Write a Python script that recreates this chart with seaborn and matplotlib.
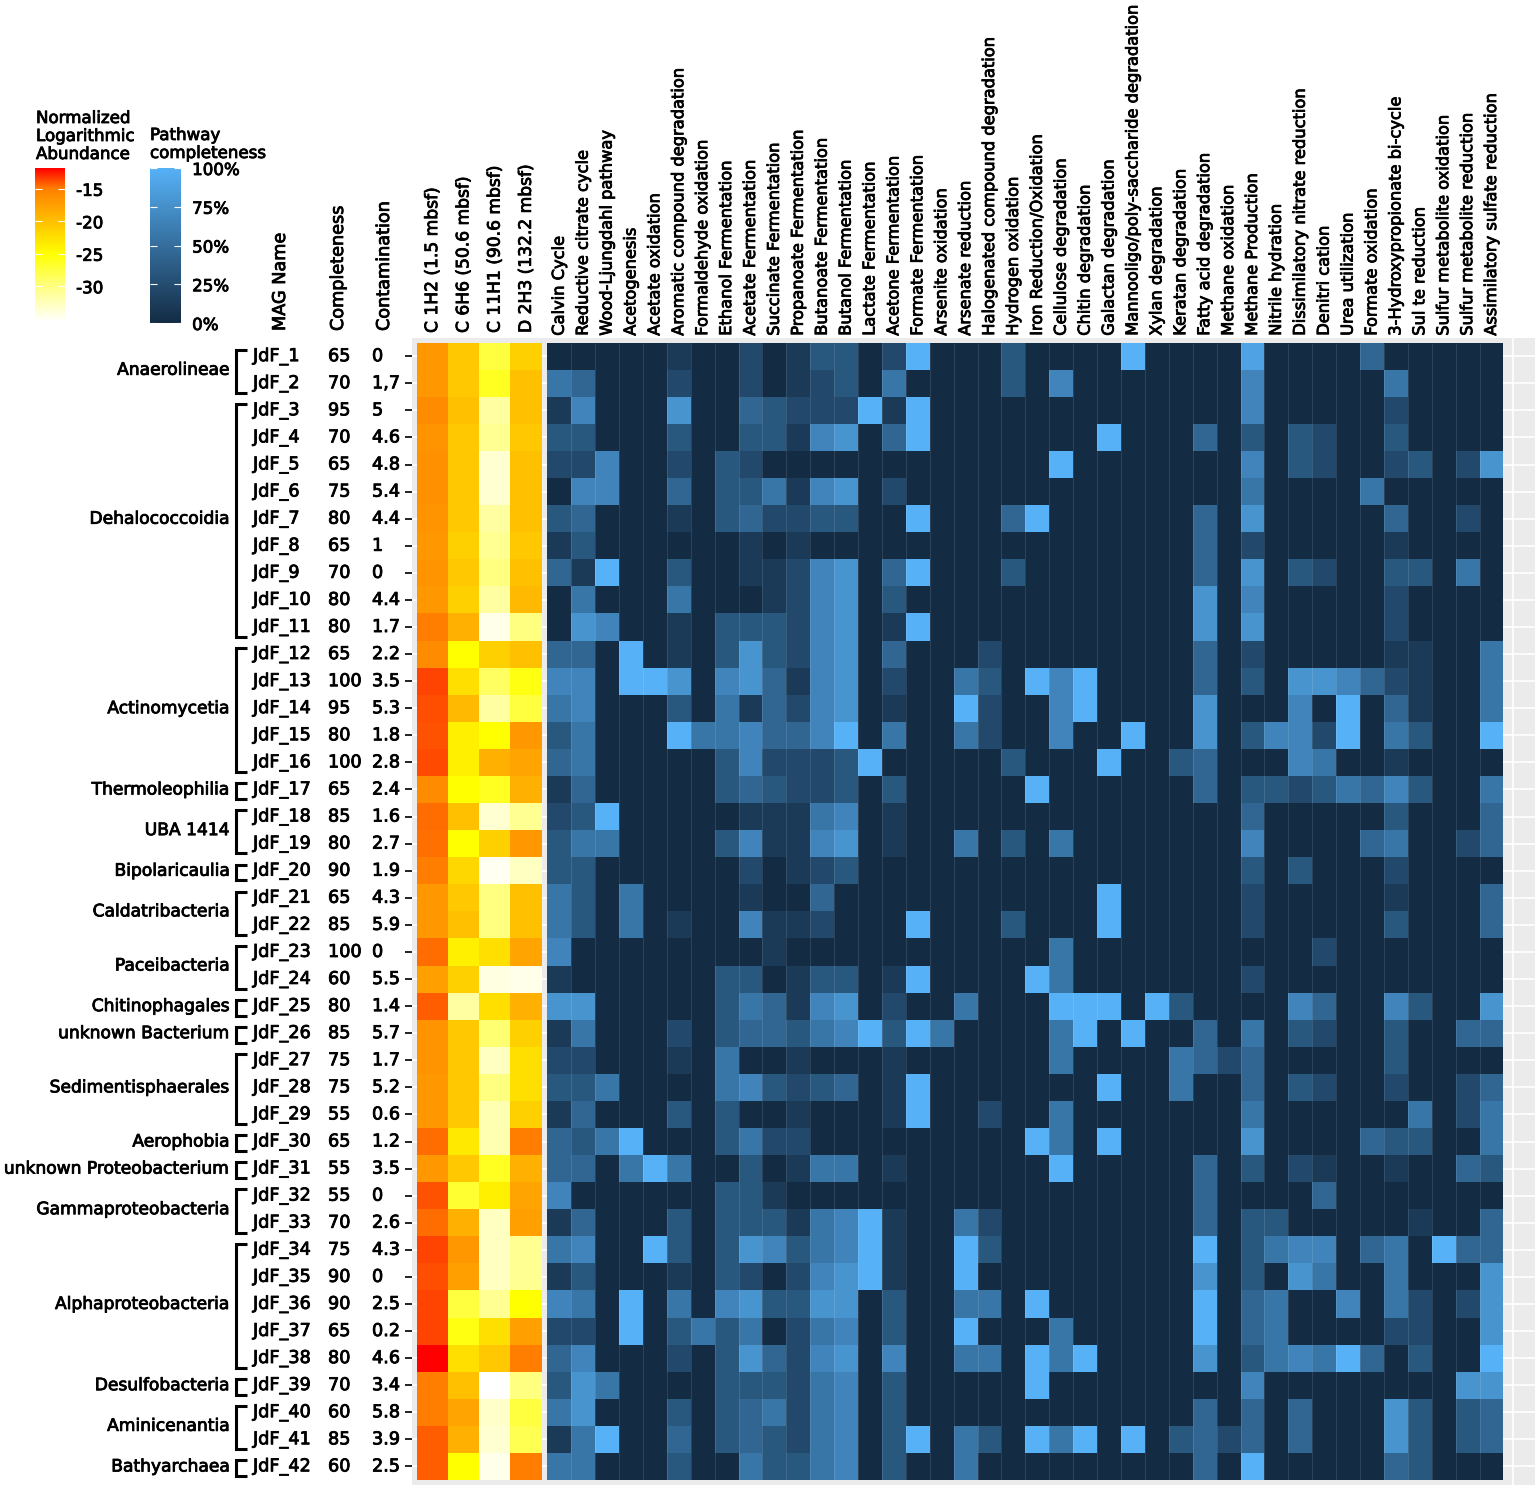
import numpy as np
import pandas as pd
import matplotlib
matplotlib.use('Agg')
import matplotlib.pyplot as plt
import matplotlib.transforms as mtransforms
import matplotlib.patheffects as pe
from matplotlib.colors import LinearSegmentedColormap
import seaborn as sns

# --------------------
# DATA
# --------------------
mag_names = ['JdF_%d' % i for i in range(1, 43)]
completeness = [65, 70, 95, 70, 65, 75, 80, 65, 70, 80, 80, 65, 100, 95, 80, 100, 65, 85, 80, 90, 65,
                85, 100, 60, 80, 85, 75, 75, 55, 65, 55, 55, 70, 75, 90, 90, 65, 80, 70, 60, 85, 60]
contamination = ['0', '1,7', '5', '4.6', '4.8', '5.4', '4.4', '1', '0', '4.4', '1.7', '2.2', '3.5', '5.3',
                 '1.8', '2.8', '2.4', '1.6', '2.7', '1.9', '4.3', '5.9', '0', '5.5', '1.4', '5.7', '1.7',
                 '5.2', '0.6', '1.2', '3.5', '0', '2.6', '4.3', '0', '2.5', '0.2', '4.6', '3.4', '5.8',
                 '3.9', '2.5']

# (taxon, first row, last row), 1-based
taxa = [('Anaerolineae', 1, 2), ('Dehalococcoidia', 3, 11), ('Actinomycetia', 12, 16),
        ('Thermoleophilia', 17, 17), ('UBA 1414', 18, 19), ('Bipolaricaulia', 20, 20),
        ('Caldatribacteria', 21, 22), ('Paceibacteria', 23, 24), ('Chitinophagales', 25, 25),
        ('unknown Bacterium', 26, 26), ('Sedimentisphaerales', 27, 29), ('Aerophobia', 30, 30),
        ('unknown Proteobacterium', 31, 31), ('Gammaproteobacteria', 32, 33),
        ('Alphaproteobacteria', 34, 38), ('Desulfobacteria', 39, 39), ('Aminicenantia', 40, 41),
        ('Bathyarchaea', 42, 42)]

samples = ['C 1H2 (1.5 mbsf)', 'C 6H6 (50.6 mbsf)', 'C 11H1 (90.6 mbsf)', 'D 2H3 (132.2 mbsf)']
abund_c1h2 = [-16.9, -16.9, -15.9, -16.6, -16.3, -16.3, -16.6, -16.9, -16.6, -16.9, -15.0, -15.9, -13.5, -13.8,
              -13.9, -13.7, -15.9, -14.5, -14.6, -15.0, -16.9, -16.9, -14.5, -17.5, -14.2, -16.6, -16.6, -16.9,
              -16.9, -14.5, -16.9, -13.9, -14.5, -13.5, -13.8, -13.5, -13.5, -11.8, -15.0, -15.0, -14.2, -14.2]
abund_c6h6 = [-20.6, -20.6, -20.0, -20.6, -20.6, -20.6, -20.6, -21.3, -20.6, -21.3, -18.8, -25.0, -22.5, -19.4,
              -23.8, -23.8, -25.0, -20.0, -25.0, -21.8, -20.6, -20.0, -23.8, -21.3, -31.4, -20.6, -20.6, -20.6,
              -20.6, -23.2, -20.6, -26.9, -18.8, -16.9, -17.5, -27.5, -25.6, -22.5, -20.0, -17.9, -18.8, -25.0]
abund_c11h1 = [-27.5, -26.3, -31.4, -30.7, -33.5, -33.5, -31.4, -30.7, -30.0, -31.4, -34.5, -21.3, -28.8, -31.4,
               -25.0, -18.8, -26.3, -33.5, -21.3, -34.9, -30.0, -30.0, -22.5, -34.2, -22.5, -29.4, -32.8, -30.0,
               -32.1, -32.1, -26.3, -23.8, -32.8, -32.8, -32.8, -30.7, -22.5, -20.6, -35.5, -33.1, -33.5, -34.5]
abund_d2h3 = [-21.3, -20.0, -20.0, -20.6, -20.0, -20.0, -20.0, -20.6, -20.0, -19.4, -30.0, -20.0, -25.6, -27.5,
              -16.9, -17.9, -18.8, -30.7, -16.9, -32.8, -20.0, -20.0, -17.9, -34.5, -18.8, -21.3, -22.5, -22.5,
              -21.3, -15.0, -18.8, -17.9, -17.5, -30.7, -30.7, -25.0, -17.5, -15.0, -30.0, -27.5, -28.1, -15.0]

pathways = ['Calvin Cycle', 'Reductive citrate cycle', 'Wood-Ljungdahl pathway', 'Acetogenesis',
            'Acetate oxidation', 'Aromatic compound degradation', 'Formaldehyde oxidation',
            'Ethanol Fermentation', 'Acetate Fermentation', 'Succinate Fermentation',
            'Propanoate Fermentation', 'Butanoate Fermentation', 'Butanol Fermentation',
            'Lactate Fermentation', 'Acetone Fermentation', 'Formate Fermentation', 'Arsenite oxidation',
            'Arsenate reduction', 'Halogenated compound degradation', 'Hydrogen oxidation',
            'Iron Reduction/Oxidation', 'Cellulose degradation', 'Chitin degradation',
            'Galactan degradation', 'Mannooligo/poly-saccharide degradation', 'Xylan degradation',
            'Keratan degradation', 'Fatty acid degradation', 'Methane oxidation', 'Methane Production',
            'Nitrile hydration', 'Dissimilatory nitrate reduction', 'Denitri cation', 'Urea utilization',
            'Formate oxidation', '3-Hydroxypropionate bi-cycle', 'Sul te reduction',
            'Sulfur metabolite oxidation', 'Sulfur metabolite reduction', 'Assimilatory sulfate reduction']

# pathway completeness per MAG, one digit per pathway: 0 = 0 %, 9 = 100 %
pathway_rows = [
    '0000010020 1330290003 0000900008 0000400000',
    '5400020020 1230500003 0600000006 0000050000',
    '1600070043 2229190000 0000000006 0000020000',
    '3300030033 1670490000 0009000403 0320030000',
    '2260020320 0000000000 0900000006 0320023027',
    '0660040335 1670200000 0000000005 0000500000',
    '3400010342 2330090004 9000000407 0000040020',
    '1300000010 1000000000 0000000402 0000010000',
    '4190030011 2670490003 0000000407 0320033050',
    '0500050001 2670300000 0000000706 0000020000',
    '0760010333 2670190000 0000000707 0000020000',
    '4409010373 2670400020 0000000402 0000011005',
    '6609970674 1670200530 9690000403 0776421005',
    '5600030514 2670100920 0690000700 0609041005',
    '3500095564 4690500520 0600900703 6629053009',
    '4500000362 2239000003 0009003400 0650010000',
    '1400000343 2230300000 9000000403 3235463005',
    '2390000011 1560100000 0000000004 0000030004',
    '3550000361 1670100503 0500000006 0000450024',
    '3300000020 1230000000 0000000003 0300020000',
    '5305000010 0400000000 0009000002 0000010004',
    '5305010061 1200090003 0009000002 0000030004',
    '6000000001 0000000000 0500000000 0020000000',
    '1000000330 1330190000 9500000002 0000000000',
    '7700000354 1670200500 0999093000 0640063007',
    '1500020344 3569395000 0590900405 0320030044',
    '2200010500 1000100000 0500005424 0000030000',
    '3350000563 2340190000 0009005004 0320020024',
    '1400030300 1000190020 0500000005 0000005025',
    '4359000352 2000000000 9509000007 0000433005',
    '4405950030 1550100000 0900000403 0210010043',
    '6000000331 0000000000 0000000400 0040000000',
    '1400030333 1569100520 0000000403 3000001004',
    '5600930376 3569100930 0000000903 5660450944',
    '1300010320 2679100900 0000000703 0750050007',
    '6509050673 3770300550 9000000904 5006052027',
    '2209035350 2560300900 0500000904 5000022007',
    '4600020374 2670600550 9590000703 5659403009',
    '3750000333 2560300000 9000000006 0000000077',
    '5700030345 2560300000 0000000404 0400073034',
    '1590040343 2560390530 9590903424 0400073034',
    '5500030053 3560300500 0000000409 0000043000',
]

# --------------------
# FIGURE
# --------------------
W, H = 1535, 1485
FS = 12
FS_ROW = 12.7
FS_TAXON = 12.3
HEAVY = [pe.withStroke(linewidth=0.6, foreground='black')]
fig = plt.figure(figsize=(W / 100, H / 100), dpi=100)


def px_axes(x0, y0, x1, y1):
    return fig.add_axes([x0 / W, 1 - y1 / H, (x1 - x0) / W, (y1 - y0) / H])


n = len(mag_names)
top, bottom = 342.7, 1480.0
row_px = (bottom - top) / n

df_ab = pd.DataFrame({samples[0]: abund_c1h2, samples[1]: abund_c6h6,
                      samples[2]: abund_c11h1, samples[3]: abund_d2h3}, index=mag_names)
pw = np.array([[int(c) for c in r.replace(' ', '')] for r in pathway_rows]) / 9.0
df_pw = pd.DataFrame(pw, index=mag_names, columns=pathways)

# ggplot-like grey panel behind the tiles
bg = px_axes(412, 338, 1535, 1485)
bg.set_facecolor('#EBEBEB')
bg.set_xlim(412, 1535)
bg.set_ylim(n + (1485 - bottom) / row_px, -(top - 338) / row_px)
bg.set_yticks(np.arange(n) + 0.5)
bg.set_yticklabels([])
bg.set_xticks([])
for y in np.arange(n) + 0.5:
    bg.axhline(y, color='white', lw=1.2, zorder=0)
bg.axvline(1513, color='white', lw=1.2, zorder=0)
bg.tick_params(axis='y', length=5, width=1.4, color='#222222')
for s in bg.spines.values():
    s.set_visible(False)

# colour scales
vmin_ab, vmax_ab = -35.5, -11.8
nodes = [(-35.5, '#FFFFFF'), (-30, '#FFFF80'), (-25, '#FFFF00'), (-20, '#FFC000'),
         (-15, '#FF8000'), (-11.8, '#FF0000')]
ab_cmap = LinearSegmentedColormap.from_list(
    'abund', [((v - vmin_ab) / (vmax_ab - vmin_ab), c) for v, c in nodes])
pw_cmap = LinearSegmentedColormap.from_list('pw', ['#132B43', '#56B1F7'])

cax_ab = px_axes(35, 168, 65, 322)
cax_pw = px_axes(150, 168, 181, 323)

ax_ab = px_axes(416.5, top, 541.5, bottom)
sns.heatmap(df_ab, ax=ax_ab, cmap=ab_cmap, vmin=vmin_ab, vmax=vmax_ab, cbar_ax=cax_ab,
            xticklabels=samples, yticklabels=False)

ax_pw = px_axes(547.3, top, 1503.5, bottom)
sns.heatmap(df_pw, ax=ax_pw, cmap=pw_cmap, vmin=0, vmax=1, cbar_ax=cax_pw,
            xticklabels=pathways, yticklabels=False)
ax_pw.vlines(np.arange(1, len(pathways)), 0, n, color='white', alpha=0.12, lw=0.7)

for ax, size, pad in ((ax_ab, 12.3, 7), (ax_pw, 11.7, 5)):
    ax.set_xlabel('')
    ax.set_ylabel('')
    ax.xaxis.set_ticks_position('top')
    ax.tick_params(axis='x', top=True, bottom=False, labeltop=True, labelbottom=False,
                   length=0, pad=pad, labelsize=size, labelrotation=90)
    ax.tick_params(axis='y', left=False, length=0)
    for lab in ax.get_xticklabels():
        lab.set_ha('center')
        lab.set_va('bottom')
        lab.set_path_effects(HEAVY)

# colour bars
cb = ax_ab.collections[0].colorbar
cb.set_ticks([-30, -25, -20, -15])
cb.set_ticklabels(['-30', '-25', '-20', '-15'])
cb.outline.set_visible(False)
cax_ab.tick_params(axis='y', which='both', direction='in', color='white', length=5,
                   left=True, right=True, labelsize=FS, pad=8)

cb2 = ax_pw.collections[0].colorbar
cb2.set_ticks([0, 0.25, 0.5, 0.75, 1])
cb2.set_ticklabels(['0%', '25%', '50%', '75%', '100%'])
cb2.outline.set_visible(False)
cax_pw.tick_params(axis='y', which='both', direction='in', color='white', length=5,
                   left=True, right=True, labelsize=FS, pad=8)
for lab in cax_ab.get_yticklabels() + cax_pw.get_yticklabels():
    lab.set_path_effects(HEAVY)

# overlay for the row annotations and headers
ov = fig.add_axes([0, 0, 1, 1])
ov.set_xlim(0, W)
ov.set_ylim(H, 0)
ov.axis('off')
ov.patch.set_alpha(0)
trans = mtransforms.blended_transform_factory(ov.transData, ax_pw.transData)

for i in range(n):
    yc = i + 0.5
    ov.text(253, yc, mag_names[i], transform=trans, ha='left', va='center', fontsize=FS_ROW,
            path_effects=HEAVY)
    ov.text(328, yc, str(completeness[i]), transform=trans, ha='left', va='center', fontsize=FS_ROW,
            path_effects=HEAVY)
    ov.text(372, yc, contamination[i], transform=trans, ha='left', va='center', fontsize=FS_ROW,
            path_effects=HEAVY)

for name, r0, r1 in taxa:
    y0 = r0 - 1 + 0.27
    y1 = r1 - 1 + 0.86
    ov.plot([247, 236, 236, 247], [y0, y0, y1, y1], transform=trans, color='black',
            lw=2.2, solid_joinstyle='miter', solid_capstyle='butt')
    ov.text(230, (r0 - 1 + r1) / 2.0, name, transform=trans, ha='right', va='center',
            fontsize=FS_TAXON, path_effects=HEAVY)

for x, txt in [(280, 'MAG Name'), (338, 'Completeness'), (384, 'Contamination')]:
    ov.text(x, 331, txt, rotation=90, ha='center', va='bottom', fontsize=FS_ROW, path_effects=HEAVY)

ov.text(36, 109, 'Normalized\nLogarithmic\nAbundance', ha='left', va='top', fontsize=FS,
        linespacing=1.0, path_effects=HEAVY)
ov.text(150, 126, 'Pathway\ncompleteness', ha='left', va='top', fontsize=FS, linespacing=1.0,
        path_effects=HEAVY)

fig.savefig('out.png', dpi=100)
